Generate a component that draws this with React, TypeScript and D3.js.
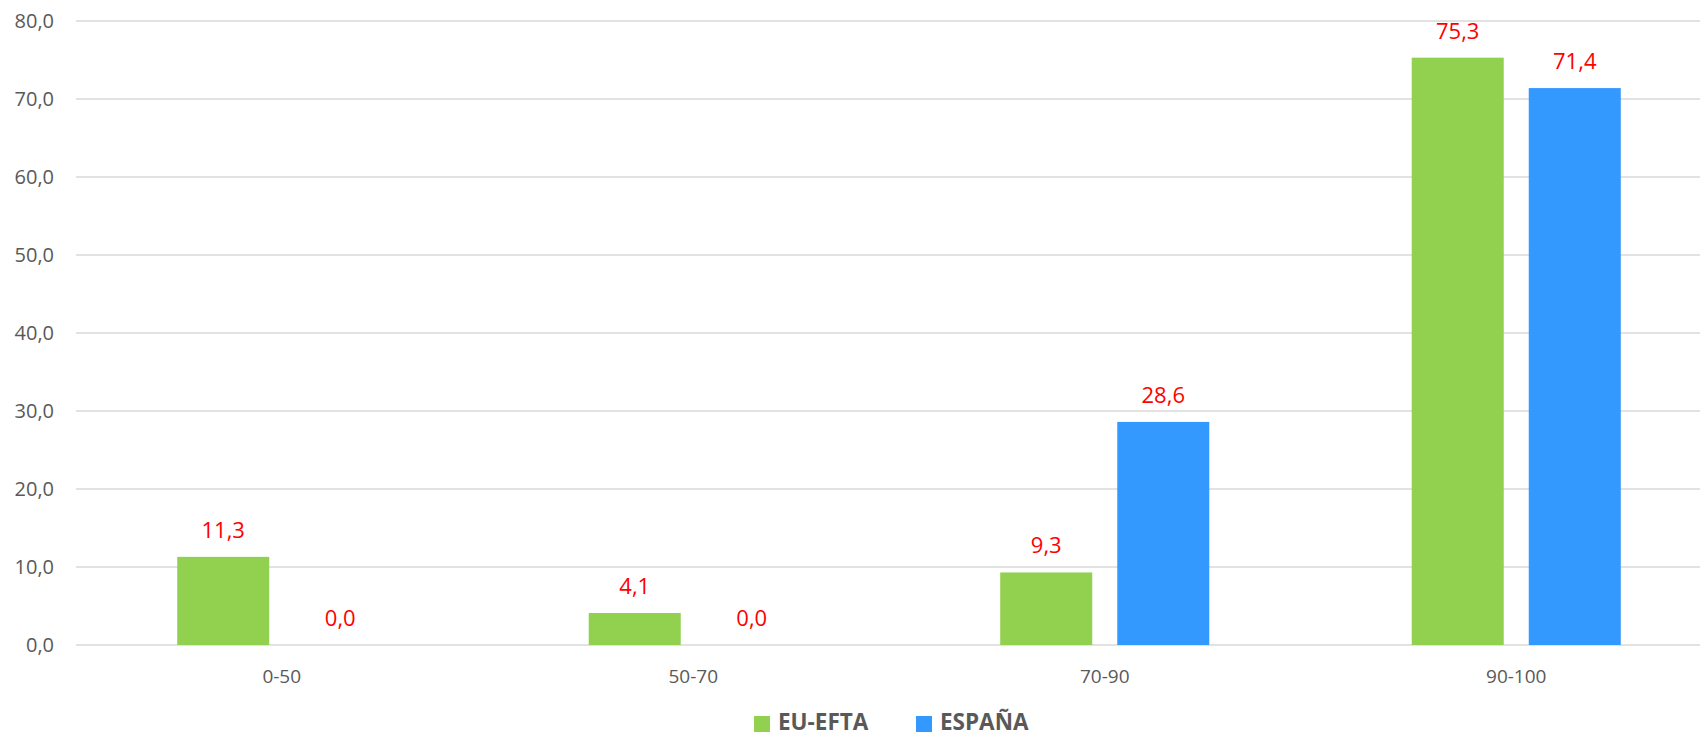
import React from 'react';
import * as d3 from 'd3';

const categories = ['0-50', '50-70', '70-90', '90-100'];
const seriesNames = ['EU-EFTA', 'ESPAÑA'];
const euEfta = [11.3, 4.1, 9.3, 75.3];
const espana = [0.0, 0.0, 28.6, 71.4];
const yTicks = [0, 10, 20, 30, 40, 50, 60, 70, 80];

const colors = ['#92D050', '#3399FF'];
const fmt = (v: number) => v.toFixed(1).replace('.', ',');

const App: React.FC = () => {
    const width = 1700;
    const height = 736;
    const margin = { top: 21, left: 76, bottom: 91 };
    const plotRight = 1722; // chart runs past the right edge of the picture

    const x0 = d3.scaleBand<string>()
        .domain(categories)
        .range([margin.left, plotRight])
        .padding(0);

    const x1 = d3.scaleBand<string>()
        .domain(seriesNames)
        .range([0, x0.bandwidth()])
        .paddingInner(0.2137)
        .paddingOuter(0.865);

    const y = d3.scaleLinear()
        .domain([0, 80])
        .range([height - margin.bottom, margin.top]);

    const values = [euEfta, espana];
    const font = "'Open Sans', sans-serif";

    return (
        <div style={{ position: 'fixed', left: 0, top: 0 }}>
            <svg width={width} height={height} style={{ display: 'block', background: '#fff' }}>
                {/* gridlines + y labels */}
                {yTicks.map(t => (
                    <g key={t}>
                        <line x1={margin.left} x2={width} y1={y(t)} y2={y(t)} stroke="#D9D9D9" strokeWidth={1.3} />
                        <text x={54} y={y(t)} dy="0.36em" textAnchor="end" fill="#595959" fontFamily={font} fontSize={20}>
                            {fmt(t)}
                        </text>
                    </g>
                ))}

                {/* bars */}
                {categories.map((c, i) => (
                    <g key={c} transform={`translate(${x0(c)},0)`}>
                        {seriesNames.map((s, j) => {
                            const v = values[j][i];
                            const bx = x1(s) as number;
                            return (
                                <g key={s}>
                                    {v > 0 && (
                                        <rect x={bx} y={y(v)} width={x1.bandwidth()} height={y(0) - y(v)} fill={colors[j]} />
                                    )}
                                    <text x={bx + x1.bandwidth() / 2} y={y(v) - 19} textAnchor="middle" fill="#FF0000" fontFamily={font} fontSize={22}>
                                        {fmt(v)}
                                    </text>
                                </g>
                            );
                        })}
                        <text x={x0.bandwidth() / 2} y={683} textAnchor="middle" fill="#595959" fontFamily={font} fontSize={19}>
                            {c}
                        </text>
                    </g>
                ))}

                {/* legend */}
                <g fontFamily={font} fontSize={22.5} fontWeight="bold" fill="#595959">
                    <rect x={754} y={716} width={16} height={16} fill={colors[0]} />
                    <text x={778} y={730}>{seriesNames[0]}</text>
                    <rect x={916} y={716} width={16} height={16} fill={colors[1]} />
                    <text x={940} y={730}>{seriesNames[1]}</text>
                </g>
            </svg>
        </div>
    );
};

export default App;
